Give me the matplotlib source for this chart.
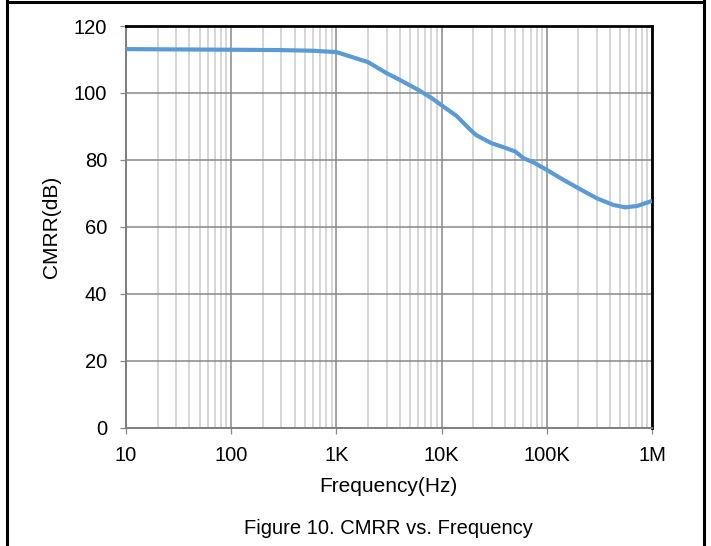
import matplotlib.pyplot as plt
from matplotlib.ticker import LogLocator, FixedLocator, NullFormatter
from matplotlib.lines import Line2D

# Datos (frecuencia en Hz, CMRR en dB)
freq = [10, 30, 100, 300, 600, 1000, 2000, 3000, 4000, 6000, 8000, 10000,
        13900, 18600, 21300, 29600, 38500, 50000, 60000, 75000, 100000,
        144000, 208000, 299000, 431000, 557000, 720000, 1000000]
cmrr = [113.1, 113.0, 112.9, 112.8, 112.6, 112.2, 109.2, 105.9, 103.9, 100.9,
        98.5, 96.3, 93.1, 89.1, 87.4, 85.0, 83.8, 82.5, 80.5, 79.2, 77.0,
        74.0, 71.2, 68.5, 66.5, 65.8, 66.2, 67.7]

x_ticks = [10, 100, 1000, 10000, 100000, 1000000]
x_labels = ["10", "100", "1K", "10K", "100K", "1M"]
y_ticks = [0, 20, 40, 60, 80, 100, 120]

plt.rcParams["font.family"] = ["Liberation Sans", "DejaVu Sans"]

fig = plt.figure(figsize=(7.11, 5.46), dpi=100)
ax = fig.add_axes([126 / 711, 1 - 427.5 / 546, 526 / 711, 401.5 / 546])

ax.plot(freq, cmrr, color="#5B9BD5", linewidth=3.0, solid_capstyle="butt", zorder=3)

ax.set_xscale("log")
ax.set_xlim(10, 1e6)
ax.set_ylim(0, 120)

ax.xaxis.set_major_locator(FixedLocator(x_ticks))
ax.set_xticklabels(x_labels)
ax.xaxis.set_minor_locator(LogLocator(base=10, subs=range(2, 10), numticks=20))
ax.xaxis.set_minor_formatter(NullFormatter())
ax.set_yticks(y_ticks)

# Rejilla: principal mas oscura, secundaria clara
ax.grid(True, which="major", color="#878787", linewidth=1.1, zorder=1)
ax.grid(True, which="minor", axis="x", color="#CCCCCC", linewidth=1.1, zorder=0)

ax.tick_params(axis="both", which="major", direction="out", length=4.5,
               width=0.9, color="#878787", labelsize=14.5)
ax.tick_params(axis="y", which="major", pad=9)
ax.tick_params(axis="x", which="major", pad=9)
ax.tick_params(axis="x", which="minor", length=0)

for lado in ["left", "bottom"]:
    ax.spines[lado].set_color("#7F7F7F")
    ax.spines[lado].set_linewidth(1.4)
for lado in ["top", "right"]:
    ax.spines[lado].set_color("black")
    ax.spines[lado].set_linewidth(2.0)

ax.set_ylabel("CMRR(dB)", fontsize=15, va="center")
ax.yaxis.set_label_coords((52 - 126) / 526, (427.5 - 226.5) / 401.5)
ax.set_xlabel("Frequency(Hz)", fontsize=15, va="baseline")
ax.xaxis.set_label_coords((388 - 126) / 526, (427.5 - 492.5) / 401.5)

fig.text(388 / 711, 1 - 528 / 546, "Figure 10. CMRR vs. Frequency",
         fontsize=14.5, ha="center", va="center")

# Marco exterior (izquierda, arriba, derecha)
for xs, ys in [([6.5, 6.5], [0, 546]), ([6.5, 703.5], [1.5, 1.5]), ([703.5, 703.5], [0, 546])]:
    fig.add_artist(Line2D([x / 711 for x in xs], [1 - y / 546 for y in ys],
                          color="black", linewidth=2.2, transform=fig.transFigure))

plt.savefig("out.png", dpi=100)
